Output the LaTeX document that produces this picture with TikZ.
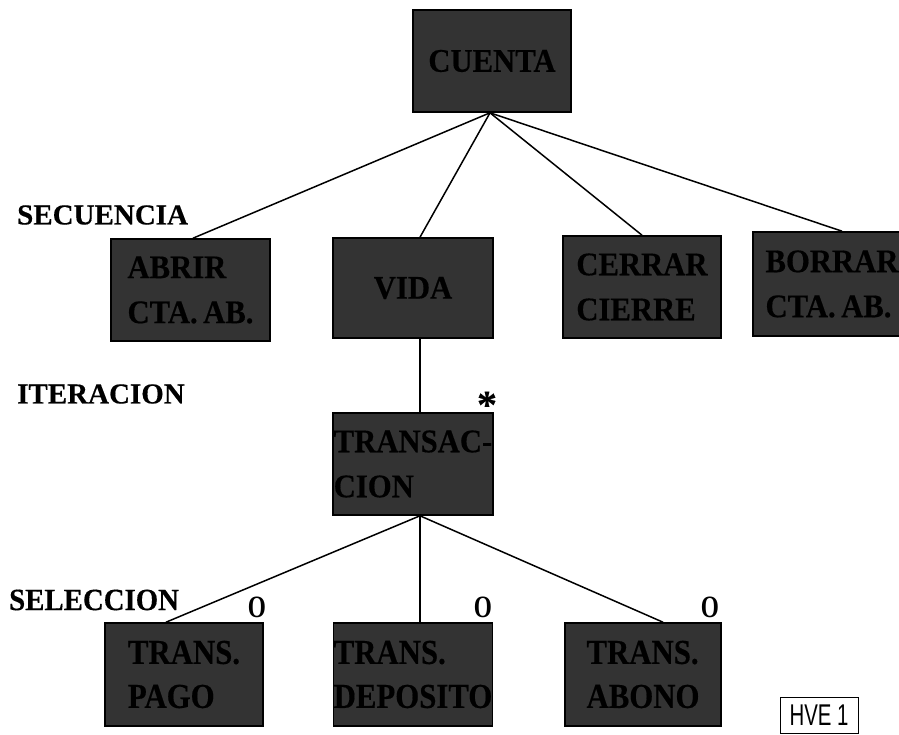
\documentclass[tikz,border=0pt]{standalone}
\usepackage{fontspec}
\setmainfont{Liberation Serif}
\newfontfamily\topfont[FakeStretch=0.93,FakeBold=0.4]{Liberation Serif}
\newfontfamily\lowfont[FakeStretch=0.88,FakeBold=0.4]{Liberation Serif}
\newfontfamily\markfont[FakeStretch=0.75]{Liberation Serif}
\newfontfamily\kindfont[FakeBold=0.3]{Liberation Serif}
\newfontfamily\selfont[FakeStretch=0.93,FakeBold=0.3]{Liberation Serif}
\newfontfamily\tagfont[FakeStretch=0.68]{Liberation Sans}
\definecolor{boxgray}{HTML}{333333}
\tikzset{
  module/.style={draw=black, line width=1.6pt, fill=boxgray, inner sep=0pt,
    minimum width=158pt, minimum height=102pt, align=left, text=black,
    font=\topfont\bfseries\fontsize{33}{45}\selectfont},
  lowmodule/.style={module, font=\lowfont\bfseries\fontsize{35}{44}\selectfont},
  kind/.style={anchor=west, inner sep=0pt, font=\kindfont\bfseries\fontsize{29}{29}\selectfont},
  mark0/.style={inner sep=0pt, font=\markfont\bfseries\fontsize{31}{31}\selectfont},
  link/.style={draw=black, line width=1.5pt}
}
\begin{document}
\begin{tikzpicture}[x=1pt,y=-1pt]
  \fill[white] (0,0) rectangle (899,735);
  \useasboundingbox (0,0) rectangle (899,735);

  % top level
  \node[module] (cuenta) at (492,61) {CUENTA};

  % sequence
  \node[module, minimum width=159pt] (abrir) at (190.5,290) {ABRIR\\CTA.\,AB.};
  \node[module, minimum width=160pt, minimum height=100pt] (vida) at (413,288) {VIDA};
  \node[module] (cerrar) at (642,287) {CERRAR\\CIERRE};
  \node[module, minimum height=104pt] (borrar) at (832,284) {BORRAR\\CTA.\,AB.};

  % iteration
  \node[module, minimum width=160pt] (trans) at (413,464) {TRANSAC-\\CION};

  % selection
  \node[lowmodule, minimum height=103pt] (pago) at (184,674.5) {TRANS.\\PAGO};
  \node[lowmodule, minimum height=103pt] (deposito) at (413,674.5) {TRANS.\\DEPOSITO};
  \node[lowmodule, minimum width=156pt, minimum height=103pt] (abono) at (643,674.5) {TRANS.\\ABONO};

  % connectors
  \draw[link] ([xshift=-2pt]cuenta.south) -- ([xshift=2.5pt]abrir.north);
  \draw[link] ([xshift=-2pt]cuenta.south) -- ([xshift=7pt]vida.north);
  \draw[link] ([xshift=-2pt]cuenta.south) -- (cerrar.north);
  \draw[link] ([xshift=-2pt]cuenta.south) -- ([xshift=10pt]borrar.north);
  \draw[link] ([xshift=7pt]vida.south) -- ([xshift=7pt]trans.north);
  \draw[link] ([xshift=7pt]trans.south) -- ([xshift=-18pt]pago.north);
  \draw[link] ([xshift=7pt]trans.south) -- ([xshift=7pt]deposito.north);
  \draw[link] ([xshift=7pt]trans.south) -- ([xshift=20pt]abono.north);

  % construct labels
  \node[kind] (lseq) at (17,215) {SECUENCIA};
  \node[kind] (lit) at (17,394) {ITERACION};
  \node[kind, font=\selfont\bfseries\fontsize{31}{31}\selectfont] (lsel) at (9,600) {SELECCION};

  % iteration and selection marks
  \node[inner sep=0pt, font=\kindfont\bfseries\fontsize{40}{40}\selectfont] (star) at (487,405) {*};
  \node[mark0] (o1) at (257,607) {O};
  \node[mark0] (o2) at (483,607) {O};
  \node[mark0] (o3) at (710,607) {O};

  % tag
  \node[draw=black, line width=1pt, minimum width=78pt, minimum height=36pt, inner sep=0pt,
        font=\tagfont\fontsize{30}{30}\selectfont] (tag) at (819,715) {HVE 1};
\end{tikzpicture}
\end{document}
